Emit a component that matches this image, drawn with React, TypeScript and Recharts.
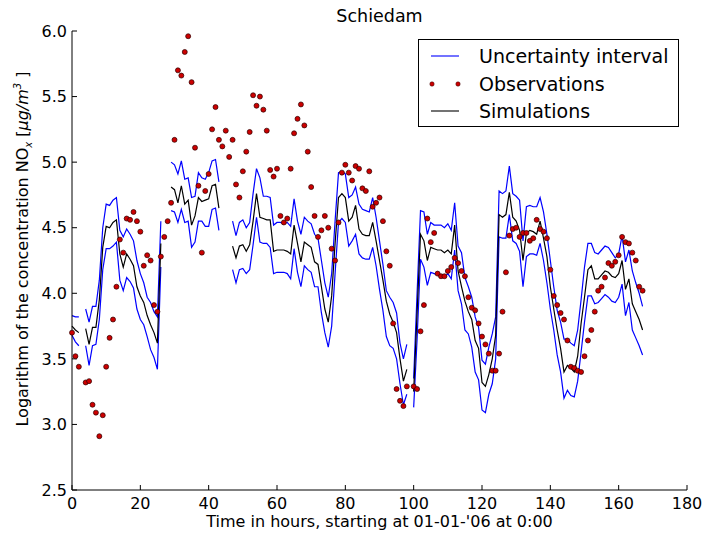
import { LineChart, Line, XAxis, YAxis, Label } from 'recharts';

const FONT = '"DejaVu Sans", Verdana, sans-serif';

// upper and lower bound of the uncertainty interval, one value per hour
const upper = [
  3.83, 3.82, 3.82, null, 3.88, 3.78, 3.9, 3.9, 4.1, 4.5,
  4.68, 4.67, 4.71, 4.73, 4.48, 4.43, 4.49, 4.45, 4.4, 4.25,
  4.15, 4.08, 3.97, 3.93, 3.86, 3.82, 4.55, null, null, 5.0,
  4.98, 4.91, 5.01, 4.87, 4.88, 4.73, 4.74, 4.92, 4.88, 4.87,
  4.92, 5.01, 5.02, 4.85, null, null, null, 4.55, 4.44, 4.54,
  4.56, 4.5, 4.54, 4.76, 4.95, 4.88, 4.74, 4.74, 4.73, 4.52,
  4.54, 4.54, 4.53, 4.54, 4.51, 4.72, 4.55, 4.45, 4.58, 4.55,
  4.53, 4.45, 4.42, 4.25, 4.08, 3.97, 4.15, 4.55, 4.92, 4.93,
  4.91, 4.73, 4.75, 4.81, 4.68, 4.64, 4.63, 4.62, 4.73, 4.58,
  4.4, 4.22, 4.02, 3.97, 3.93, 3.85, 3.62, 3.5, 3.61, null,
  3.35, 4.0, 4.63, 4.62, 4.45, 4.54, 4.52, 4.52, 4.52, 4.5,
  4.53, 4.48, 4.69, 4.36, 4.31, 4.12, 4.05, 3.97, 3.82, 3.74,
  3.49, 3.46, 3.59, 3.69, 3.82, 4.78, 4.76, 4.78, 4.97, 4.76,
  4.74, 4.71, 4.4, 4.66, 4.67, 4.66, 4.66, 4.73, 4.62, 4.45,
  4.25, 4.05, 3.87, 3.78, 3.65, 3.65, 3.62, 3.6, 3.72, 3.95,
  4.2, 4.38, 4.38, 4.31, 4.3, 4.33, 4.36, 4.35, 4.31, 4.27,
  4.3, 4.44, 4.24, 4.33, 4.17, 4.08, 4.0, 3.9,
];

const lower = [
  3.68, 3.63, 3.6, null, 3.6, 3.45, 3.6, 3.61, 3.8, 4.18,
  4.34, 4.34, 4.36, 4.39, 4.1, 4.02, 4.12, 4.09, 4.04, 3.88,
  3.8, 3.76, 3.67, 3.57, 3.51, 3.42, 4.2, null, null, 4.63,
  4.62, 4.54, 4.64, 4.54, 4.55, 4.35, 4.39, 4.55, 4.55, 4.51,
  4.51, 4.64, 4.65, 4.48, null, null, null, 4.18, 4.08, 4.18,
  4.19, 4.15, 4.18, 4.37, 4.58, 4.39, 4.38, 4.38, 4.35, 4.15,
  4.16, 4.16, 4.16, 4.15, 4.11, 4.34, 4.16, 4.05, 4.21, 4.18,
  4.16, 4.05, 4.05, 3.85, 3.7, 3.59, 3.75, 4.15, 4.54, 4.57,
  4.54, 4.36, 4.4, 4.45, 4.3, 4.27, 4.26, 4.26, 4.35, 4.21,
  4.03, 3.87, 3.67, 3.6, 3.58, 3.5, 3.31, 3.15, 3.23, null,
  3.13, 3.65, 4.26, 4.2, 4.06, 4.16, 4.15, 4.14, 4.14, 4.12,
  4.15, 4.11, 4.33, 4.02, 3.92, 3.72, 3.69, 3.59, 3.4, 3.34,
  3.11, 3.09, 3.23, 3.31, 3.5, 4.43, 4.42, 4.42, 4.6, 4.4,
  4.38, 4.32, 4.05, 4.28, 4.3, 4.3, 4.29, 4.38, 4.25, 4.08,
  3.88, 3.72, 3.53, 3.4, 3.2, 3.26, 3.22, 3.21, 3.33, 3.55,
  3.78, 3.98, 3.98, 3.92, 3.93, 3.96, 3.99, 3.97, 3.94, 3.93,
  3.97, 4.07, 3.83, 3.93, 3.72, 3.66, 3.6, 3.53,
];

const simulations = [
  3.75, 3.72, 3.7, null, 3.73, 3.61, 3.74, 3.74, 3.95, 4.35,
  4.51, 4.5, 4.54, 4.56, 4.3, 4.2, 4.3, 4.26, 4.21, 4.05,
  3.98, 3.93, 3.83, 3.76, 3.7, 3.62, 4.38, null, null, 4.81,
  4.79, 4.69, 4.82, 4.68, 4.71, 4.52, 4.59, 4.73, 4.7, 4.71,
  4.72, 4.82, 4.83, 4.65, null, null, null, 4.36, 4.27, 4.36,
  4.37, 4.32, 4.37, 4.55, 4.76, 4.58, 4.57, 4.56, 4.56, 4.32,
  4.33, 4.33, 4.33, 4.32, 4.3, 4.52, 4.38, 4.24, 4.39, 4.37,
  4.35, 4.24, 4.22, 4.05, 3.88, 3.78, 3.98, 4.38, 4.73, 4.76,
  4.73, 4.55, 4.58, 4.67, 4.49, 4.45, 4.44, 4.44, 4.54, 4.4,
  4.25, 4.1, 3.94, 3.84, 3.78, 3.7, 3.5, 3.33, 3.42, null,
  3.25, 3.85, 4.45, 4.4, 4.25, 4.35, 4.34, 4.33, 4.33, 4.31,
  4.33, 4.3, 4.52, 4.17, 4.05, 3.94, 3.86, 3.8, 3.64, 3.58,
  3.32, 3.29, 3.38, 3.5, 3.68, 4.6, 4.58, 4.6, 4.77, 4.58,
  4.55, 4.48, 4.25, 4.46, 4.48, 4.47, 4.45, 4.55, 4.42, 4.28,
  4.05, 3.88, 3.72, 3.58, 3.4, 3.45, 3.43, 3.4, 3.52, 3.77,
  3.97, 4.18, 4.21, 4.11, 4.11, 4.14, 4.17, 4.16, 4.13, 4.12,
  4.15, 4.25, 4.03, 4.11, 3.92, 3.86, 3.8, 3.72,
];

const observations = [
  3.7, 3.52, 3.44, null, 3.32, 3.33, 3.15, 3.09, 2.91, 3.07,
  3.44, 3.66, 3.8, 4.05, 4.41, 4.31, 4.57, 4.56, 4.62, 4.55,
  4.47, 4.21, 4.29, 4.25, 3.91, 3.86, 4.28, 4.43, 4.55, 4.69,
  5.17, 5.7, 5.66, 5.84, 5.96, 5.61, 5.11, 4.82, 4.31, 4.78,
  4.91, 5.25, 5.42, 5.17, 5.12, 5.24, 5.04, 5.17, 4.83, 4.73,
  4.93, 5.08, 5.23, 5.51, 5.43, 5.5, 5.4, 5.24, 4.94, 4.89,
  4.95, 4.59, 4.54, 4.57, 4.95, 5.22, 5.33, 5.44, 5.28, 5.08,
  4.81, 4.59, 4.43, 4.48, 4.59, 4.5, 4.34, 4.25, 4.54, 4.92,
  4.98, 4.92, 4.86, 4.97, 4.95, 4.8, 4.78, 4.93, 4.66, 4.69,
  4.73, 4.55, 4.32, 4.21, 3.77, 3.27, 3.18, 3.14, 3.29, null,
  3.29, 3.27, 3.71, 3.91, 4.57, 4.39, 4.46, 4.15, 4.13, 4.13,
  4.17, 4.2, 4.27, 4.23, 4.17, 4.13, 3.97, 3.89, 3.87, 3.77,
  3.67, 3.61, 3.54, 3.41, 3.41, 3.54, 3.86, 4.16, 4.44, 4.49,
  4.5, 4.43, 4.46, 4.46, 4.4, 4.42, 4.56, 4.49, 4.47, 4.42,
  4.18, 3.98, 3.91, 3.85, 3.8, 3.64, 3.44, 3.43, 3.41, 3.4,
  3.52, 3.64, 3.72, 3.86, 4.02, 4.05, 4.12, 4.23, 4.21, 4.24,
  4.29, 4.43, 4.39, 4.38, 4.31, 4.25, 4.05, 4.02,
];

const xTicks = [0, 20, 40, 60, 80, 100, 120, 140, 160, 180];
const yTicks = [2.5, 3.0, 3.5, 4.0, 4.5, 5.0, 5.5, 6.0];

const legendItems = [
  { name: 'Uncertainty interval', kind: 'line', color: '#0000ff' },
  { name: 'Observations', kind: 'dots', color: '#cc0000' },
  { name: 'Simulations', kind: 'line', color: '#000000' },
];

const data = upper.map((u, i) => ({
  hour: i,
  upper: u,
  lower: lower[i],
  sim: simulations[i],
  obs: observations[i],
}));

function YLabel() {
  return (
    <text
      x={28}
      y={249}
      transform="rotate(-90 28 249)"
      textAnchor="middle"
      fontFamily={FONT}
      fontSize={16}
      fill="#000"
    >
      Logarithm of the concentration NO
      <tspan fontSize={10} fontStyle="italic" dy={4}>x</tspan>
      <tspan dy={-4}>{'  ['}</tspan>
      <tspan fontStyle="italic">{'μg/m'}</tspan>
      <tspan fontSize={10} fontStyle="italic" dy={-7}>3</tspan>
      <tspan dy={7}>{' ]'}</tspan>
    </text>
  );
}

function ChartLegend() {
  return (
    <div
      style={{
        position: 'absolute',
        left: 418,
        top: 39,
        width: 261,
        height: 88,
        boxSizing: 'border-box',
        border: '1px solid #000',
        background: '#fff',
        fontFamily: FONT,
        fontSize: 19,
      }}
    >
      {legendItems.map((item, i) => (
        <div
          key={item.name}
          style={{ position: 'absolute', left: 0, top: 3 + i * 27.5, height: 26, display: 'flex', alignItems: 'center' }}
        >
          <svg width={60} height={26} style={{ display: 'block' }}>
            {item.kind === 'line' ? (
              <line x1={12} x2={40} y1={13} y2={13} stroke={item.color} strokeWidth={1.1} />
            ) : (
              <>
                <circle cx={13} cy={13} r={2.2} fill={item.color} stroke="#300" strokeWidth={0.5} />
                <circle cx={39} cy={13} r={2.2} fill={item.color} stroke="#300" strokeWidth={0.5} />
              </>
            )}
          </svg>
          <span style={{ whiteSpace: 'nowrap' }}>{item.name}</span>
        </div>
      ))}
    </div>
  );
}

export default function App() {
  const tickStyle = { fill: '#000', fontSize: 16, fontFamily: FONT };
  return (
    <div style={{ position: 'absolute', left: 0, top: 0, width: 703, height: 536, background: '#fff' }}>
      <div
        style={{
          position: 'absolute',
          left: 72,
          width: 615,
          top: 6,
          textAlign: 'center',
          fontFamily: FONT,
          fontSize: 17.5,
          zIndex: 2,
        }}
      >
        Schiedam
      </div>
      <LineChart width={703} height={536} data={data} margin={{ top: 31, right: 16, bottom: 0, left: 0 }}>
        <XAxis
          dataKey="hour"
          type="number"
          domain={[0, 180]}
          ticks={xTicks}
          height={46}
          tick={tickStyle}
          tickSize={-5}
          tickMargin={13}
          axisLine={{ stroke: '#000' }}
          tickLine={{ stroke: '#000' }}
          label={{
            value: "Time in hours, starting at 01-01-'06 at 0:00",
            position: 'insideBottom',
            offset: 9,
            fill: '#000',
            fontSize: 16,
            fontFamily: FONT,
          }}
        />
        <XAxis
          xAxisId="top"
          orientation="top"
          type="number"
          domain={[0, 180]}
          ticks={xTicks}
          height={0}
          tick={false}
          tickSize={-5}
          axisLine={{ stroke: '#000' }}
          tickLine={{ stroke: '#000' }}
        />
        <YAxis
          type="number"
          domain={[2.5, 6]}
          ticks={yTicks}
          width={72}
          tick={tickStyle}
          tickFormatter={(v: number) => v.toFixed(1)}
          tickSize={-5}
          tickMargin={10}
          axisLine={{ stroke: '#000' }}
          tickLine={{ stroke: '#000' }}
        >
          <Label content={<YLabel />} />
        </YAxis>
        <YAxis
          yAxisId="right"
          orientation="right"
          type="number"
          domain={[2.5, 6]}
          ticks={yTicks}
          width={0}
          tick={false}
          tickSize={-5}
          axisLine={{ stroke: '#000' }}
          tickLine={{ stroke: '#000' }}
        />
        <Line dataKey="upper" stroke="#0000ff" strokeWidth={1.2} dot={false} activeDot={false} isAnimationActive={false} />
        <Line dataKey="lower" stroke="#0000ff" strokeWidth={1.2} dot={false} activeDot={false} isAnimationActive={false} />
        <Line dataKey="sim" stroke="#000000" strokeWidth={1.2} dot={false} activeDot={false} isAnimationActive={false} />
        <Line
          dataKey="obs"
          stroke="none"
          dot={{ r: 2.5, fill: '#cc0000', stroke: '#2b0000', strokeWidth: 0.7 }}
          activeDot={false}
          isAnimationActive={false}
        />
      </LineChart>
      <ChartLegend />
    </div>
  );
}
